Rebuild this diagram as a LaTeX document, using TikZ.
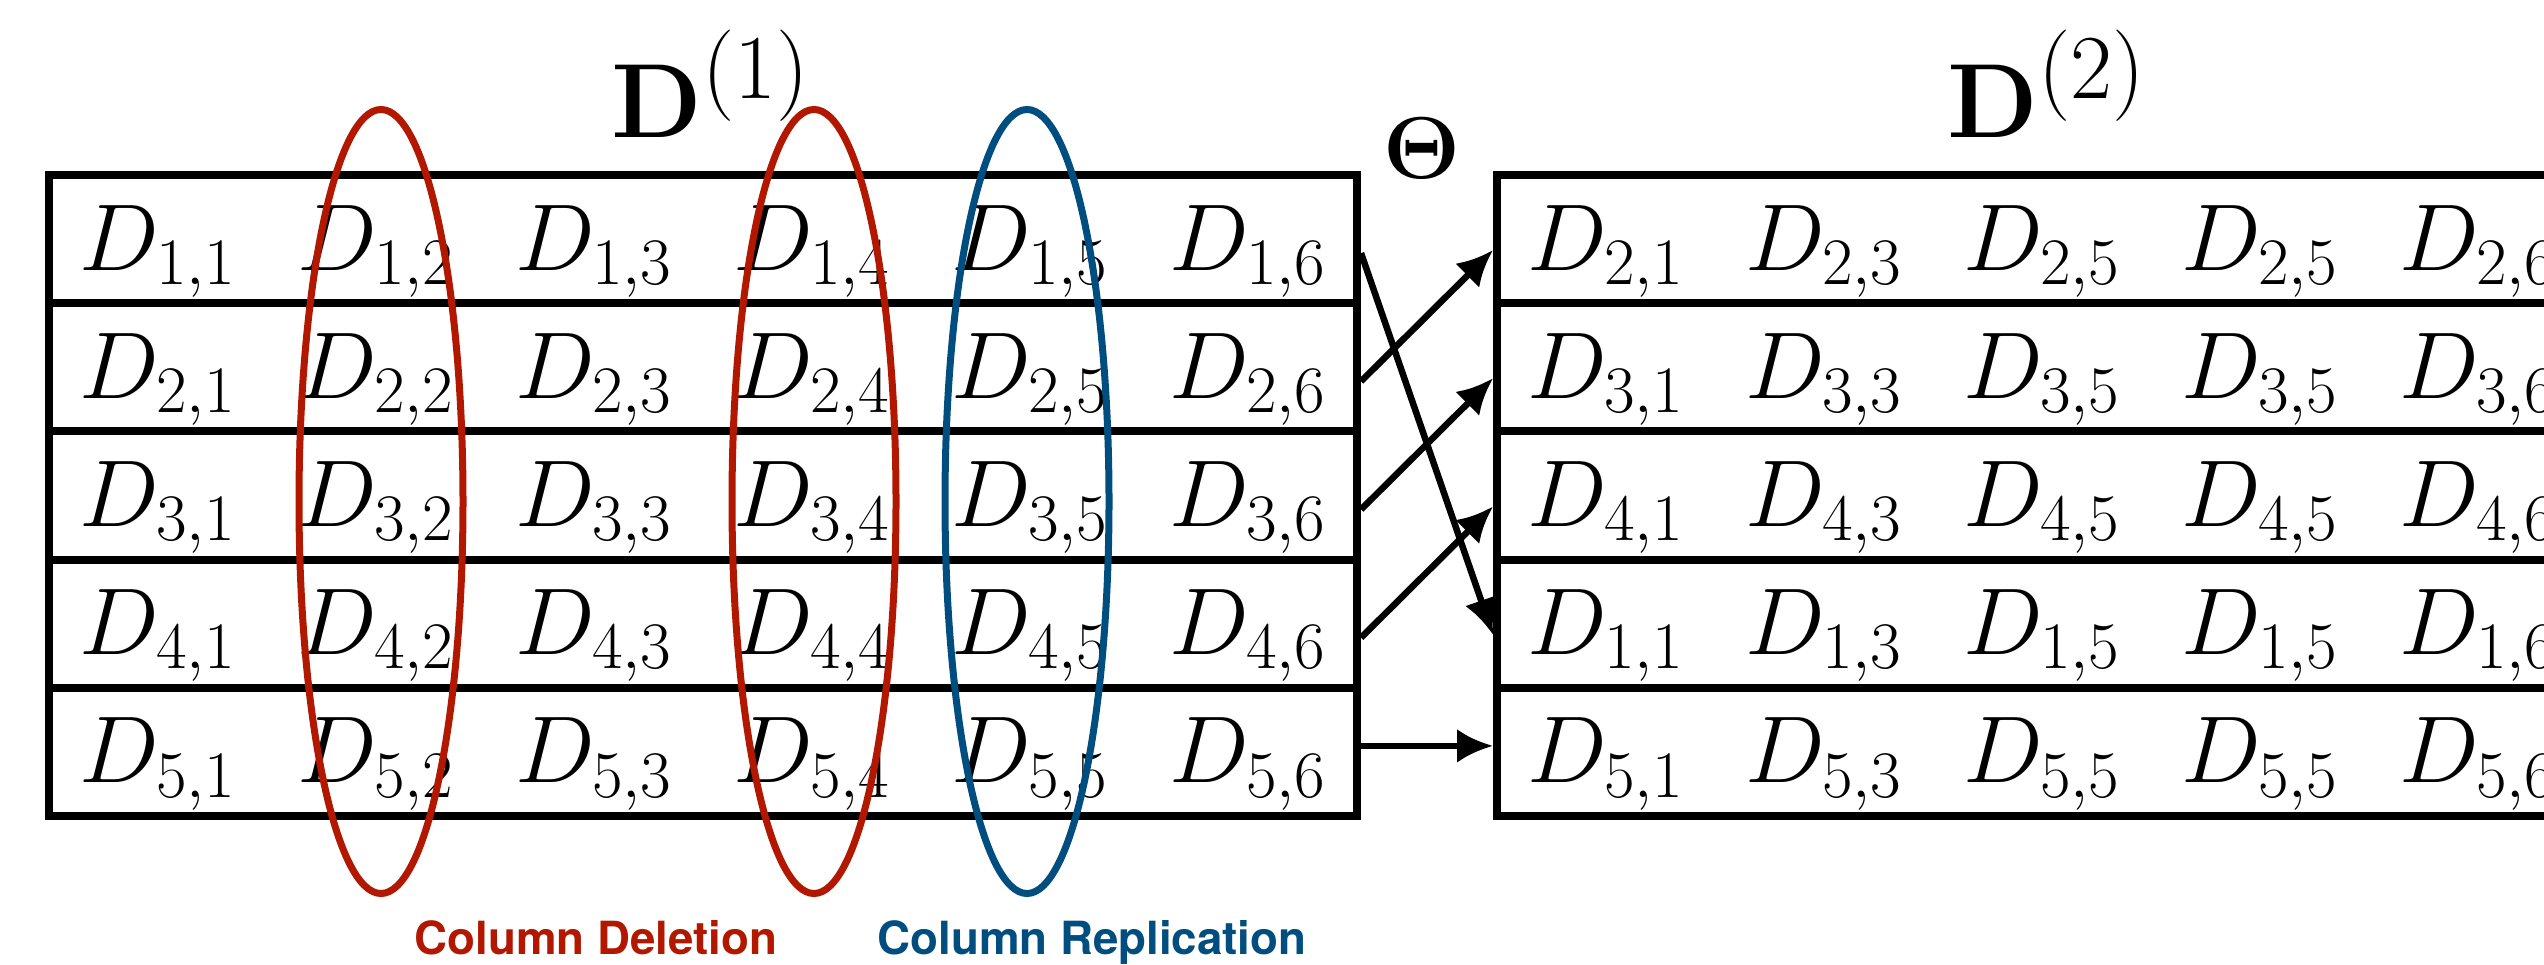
\RequirePackage{fix-cm}
\documentclass[tikz,border=0pt]{standalone}
\usepackage[no-math]{fontspec}
\newfontfamily\labelfont{TeX Gyre Heros}
\usetikzlibrary{arrows.meta, shapes.geometric}
\definecolor{delred}{RGB}{178,24,0}
\definecolor{repblue}{RGB}{0,78,128}
\DeclareMathSizes{30}{30}{26}{20}
\newcommand{\dtitle}[1]{\fontsize{30}{36}\selectfont$\mathbf{D}^{(#1)}$}

\begin{document}
\begin{tikzpicture}[
  rowbox/.style = {draw, line width=0.8mm, minimum height=1.282cm, inner sep=0pt},
  entry/.style = {font=\fontsize{27}{32}\selectfont, anchor=base, inner sep=0pt},
  ring/.style = {draw, ellipse, line width=0.7mm, minimum width=1.64cm, minimum height=7.84cm, inner sep=0pt},
  lbl/.style = {font=\labelfont\bfseries\fontsize{13}{15}\selectfont, anchor=base},
  link/.style = {-{Latex[length=3.6mm, width=3.4mm]}, line width=0.65mm},
]
  \useasboundingbox (0,0) rectangle (25.44,-9.64);

  \node[anchor=base] (t1) at (7.11,-1.37) {\dtitle{1}};
  \node[anchor=base] (t2) at (20.47,-1.37) {\dtitle{2}};
  \node[font=\fontsize{25}{30}\selectfont] (theta) at (14.22,-1.48) {$\mathbf{\Theta}$};

  % input table
  \foreach \i in {1,...,5} {
    \node[rowbox, minimum width=13.08cm] (rowL\i) at (7.03,{-1.75-1.282*(\i-0.5)}) {};
    \foreach \j in {1,...,6}
      \node[entry] (l\i\j) at ({0.49+2.18*(\j-0.5)},{-2.06-1.282*(\i-0.5)}) {$D_{\i,\j}$};
  }

  % output table
  \foreach \r/\s in {1/2, 2/3, 3/4, 4/1, 5/5} {
    \node[rowbox, minimum width=10.9cm] (rowR\r) at (20.42,{-1.75-1.282*(\r-0.5)}) {};
    \foreach \c/\k in {1/1, 2/3, 3/5, 4/5, 5/6}
      \node[entry] (r\r\c) at ({14.97+2.18*(\c-0.5)},{-2.06-1.282*(\r-0.5)}) {$D_{\s,\k}$};
  }

  \foreach \a/\b in {1/4, 2/1, 3/2, 4/3}
    \draw[link] ([yshift=-1.4mm]rowL\a.east) -- ([yshift=-1.1mm]rowR\b.west);
  \draw[link] ([yshift=0.6mm]rowL5.east) -- ([yshift=0.6mm]rowR5.west);

  \node[ring, delred] (del2) at (3.81,-5.015) {};
  \node[ring, delred] (del4) at (8.14,-5.015) {};
  \node[ring, repblue] (rep5) at (10.27,-5.015) {};

  \node[lbl, delred] (deltext) at (5.96,-9.54) {Column Deletion};
  \node[lbl, repblue] (reptext) at (10.92,-9.54) {Column Replication};
\end{tikzpicture}
\end{document}
